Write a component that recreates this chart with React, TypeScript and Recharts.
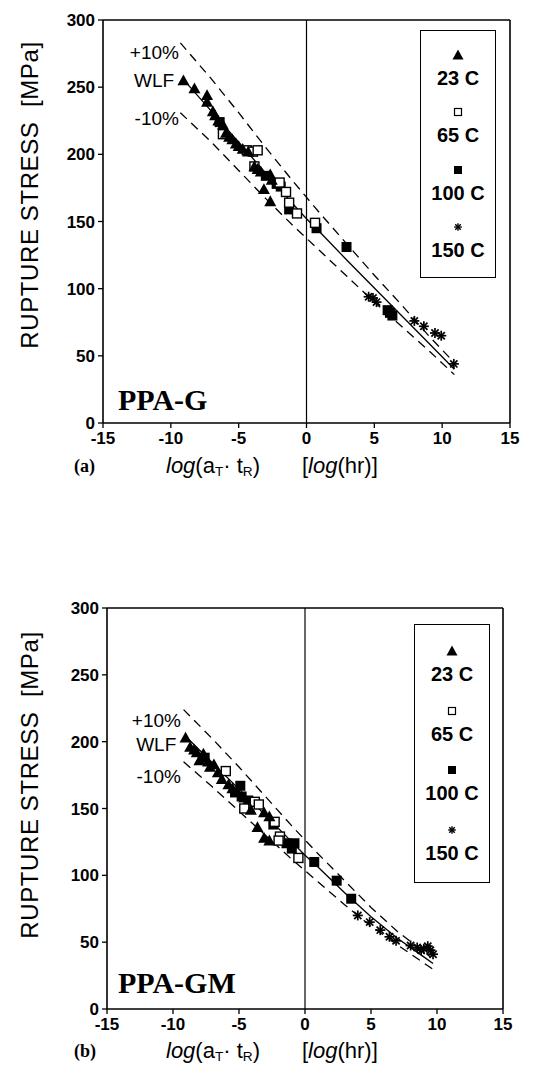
import React from 'react';
import { ScatterChart, Scatter, XAxis, YAxis, ReferenceLine, Legend } from 'recharts';

const SANS = '"Liberation Sans", Arial, Helvetica, sans-serif';
const SERIF = '"Liberation Serif", "Times New Roman", serif';

// Axis ticks
const xTicks = [-15, -10, -5, 0, 5, 10, 15];
const yTicks = [0, 50, 100, 150, 200, 250, 300];

// Test temperatures (legend entries, top to bottom)
const temps = ['23 C', '65 C', '100 C', '150 C'];

// ---------- (a) PPA-G : [log(aT·tR), rupture stress MPa] ----------
const gT23 = [
  [-9.07, 255], [-8.26, 249], [-7.33, 244], [-7.33, 239], [-6.9, 232], [-6.74, 229],
  [-6.5, 225], [-6.16, 222], [-5.93, 216], [-5.7, 213], [-5.47, 211], [-5.2, 208],
  [-5.0, 206], [-4.7, 204], [-4.3, 202], [-3.84, 191], [-3.6, 189], [-3.37, 187],
  [-2.67, 185], [-2.56, 181], [-3.14, 174], [-2.67, 165],
];
const gT65 = [
  [-6.16, 215], [-4.4, 203], [-3.95, 202], [-3.6, 203], [-3.84, 191], [-1.98, 179],
  [-1.51, 172], [-1.28, 164], [-0.7, 156], [0.63, 149],
];
const gT100 = [
  [-6.4, 224], [-3.0, 184], [-2.2, 178], [-1.9, 176], [-1.28, 159], [0.74, 145], [2.95, 131],
  [5.98, 84], [6.33, 80], [6.15, 82],
];
const gT150 = [
  [4.58, 94], [4.9, 93], [5.16, 90], [7.95, 76], [8.65, 72], [9.47, 67], [9.93, 65], [10.86, 44],
];
const gWlf = [
  [-9.1, 256], [-7, 232], [-5, 209], [-3, 186], [-1, 163], [0, 152], [1, 142], [3, 121],
  [5, 100.5], [7, 80], [9, 59.5], [10.9, 40],
];
const gPlus = [
  [-9.3, 283], [-7, 256], [-5, 231], [-3, 205], [-1, 180], [1, 156], [3, 133], [5, 110],
  [7, 88], [9, 65], [10.7, 47],
];
const gMinus = [
  [-9.3, 231], [-7, 209], [-5, 188], [-3, 167], [-1, 147], [1, 128], [3, 109], [5, 90],
  [7, 72], [9, 54], [10.9, 36],
];
const gNotes = [
  { x: -9.4, y: 276, text: '+10%' },
  { x: -9.75, y: 255, text: 'WLF' },
  { x: -9.4, y: 227, text: '-10%' },
];

// ---------- (b) PPA-GM ----------
const gmT23 = [
  [-9.05, 203], [-8.7, 196], [-8.4, 194], [-8.2, 192], [-7.7, 191], [-8.0, 186], [-7.35, 185],
  [-7.2, 181], [-6.9, 183], [-6.6, 177], [-6.3, 172], [-5.8, 168], [-5.5, 165],
  [-4.6, 158], [-4.1, 149], [-3.1, 147], [-2.7, 144], [-3.6, 136], [-3.1, 128], [-2.7, 126],
];
const gmT65 = [
  [-6.0, 178], [-3.8, 155], [-4.6, 150], [-3.5, 153], [-2.3, 140], [-1.9, 129], [-2.0, 126], [-0.5, 113],
];
const gmT100 = [
  [-7.6, 188], [-4.9, 167], [-5.3, 162], [-4.8, 159], [-4.3, 156], [-2.4, 138], [-1.4, 124], [-0.8, 124],
  [-1.0, 120], [0.7, 110], [2.4, 96], [3.5, 82.5],
];
const gmT150 = [
  [4.0, 70], [4.9, 65], [5.7, 59], [6.4, 54], [6.9, 51], [8.0, 47.5], [8.5, 46], [8.8, 44],
  [9.0, 45], [9.3, 47], [9.5, 44], [9.7, 41],
];
const gmWlf = [
  [-9.05, 204], [-7, 184], [-5, 164.5], [-3, 145], [-1, 125], [0, 115], [1, 106], [3, 87],
  [5, 69], [7, 53], [9, 39], [9.7, 34],
];
const gmPlus = [
  [-9.2, 224], [-7, 202], [-5, 181], [-3, 159], [-1, 137], [1, 116], [3, 96], [5, 76],
  [7, 58], [9.5, 39],
];
const gmMinus = [
  [-9.2, 185], [-7, 166], [-5, 148], [-3, 130], [-1, 112], [1, 95], [3, 78], [5, 62],
  [7, 48], [9.8, 29],
];
const gmNotes = [
  { x: -9.4, y: 216, text: '+10%' },
  { x: -9.75, y: 198, text: 'WLF' },
  { x: -9.4, y: 174, text: '-10%' },
];

type Pt = { x: number; y: number };
const toPts = (a: number[][]): Pt[] => a.map(([x, y]) => ({ x, y }));

// ---------- marker shapes ----------
const triPath = (cx: number, cy: number, s: number) =>
  `M${cx},${cy - s}L${cx + s},${cy + s * 0.8}L${cx - s},${cy + s * 0.8}Z`;

const TriangleMark = (p: any) => <path d={triPath(p.cx, p.cy, 6)} fill="#000" />;
const OpenSquareMark = (p: any) => (
  <rect x={p.cx - 4.5} y={p.cy - 4.5} width={9} height={9} fill="#fff" stroke="#000" strokeWidth={1.4} />
);
const FilledSquareMark = (p: any) => (
  <rect x={p.cx - 5} y={p.cy - 5} width={10} height={10} fill="#000" />
);
const starLines = (cx: number, cy: number, r: number, w: number) => (
  <g stroke="#000" strokeWidth={w}>
    <line x1={cx - r} y1={cy} x2={cx + r} y2={cy} />
    <line x1={cx} y1={cy - r} x2={cx} y2={cy + r} />
    <line x1={cx - r * 0.72} y1={cy - r * 0.72} x2={cx + r * 0.72} y2={cy + r * 0.72} />
    <line x1={cx - r * 0.72} y1={cy + r * 0.72} x2={cx + r * 0.72} y2={cy - r * 0.72} />
  </g>
);
const StarMark = (p: any) => starLines(p.cx, p.cy, 5, 1.7);
const NoMark = () => <g />;

const NoteMark = (p: any) => (
  <text
    x={p.cx}
    y={p.cy}
    textAnchor="end"
    dominantBaseline="central"
    fontFamily={SANS}
    fontSize={19}
    fill="#000"
  >
    {p.payload.text}
  </text>
);

const legendIcons: Record<string, React.ReactNode> = {
  '23 C': <path d={triPath(8, 7, 5.5)} fill="#000" />,
  '65 C': <rect x={4.5} y={3.5} width={7} height={7} fill="#fff" stroke="#000" strokeWidth={1.2} />,
  '100 C': <rect x={4} y={3} width={8} height={8} fill="#000" />,
  '150 C': starLines(8, 7, 3.8, 1.4),
};

const LegendBox = ({ payload, height }: any) => {
  const entries = (payload || [])
    .filter((e: any) => temps.includes(e.value))
    .sort((a: any, b: any) => temps.indexOf(a.value) - temps.indexOf(b.value));
  return (
    <div
      style={{
        width: 76,
        height,
        border: '1.5px solid #000',
        boxSizing: 'border-box',
        display: 'flex',
        flexDirection: 'column',
        justifyContent: 'space-evenly',
        alignItems: 'center',
        background: '#fff',
        fontFamily: SANS,
        fontWeight: 'bold',
        fontSize: 20,
        color: '#000',
      }}
    >
      {entries.map((e: any) => (
        <div key={e.value} style={{ display: 'flex', flexDirection: 'column', alignItems: 'center' }}>
          <svg width={16} height={13}>{legendIcons[e.value]}</svg>
          <div style={{ marginTop: 7, lineHeight: '20px', whiteSpace: 'nowrap' }}>{e.value}</div>
        </div>
      ))}
    </div>
  );
};

type PanelProps = {
  top: number;
  height: number;
  margin: { top: number; right: number; bottom: number; left: number };
  t23: number[][];
  t65: number[][];
  t100: number[][];
  t150: number[][];
  wlf: number[][];
  plus: number[][];
  minus: number[][];
  notes: { x: number; y: number; text: string }[];
  legendPos: { left: number; top: number; height: number };
};

const tickStyle = { fill: '#000', fontSize: 17, fontWeight: 'bold', fontFamily: SANS };
const solid = { stroke: '#000', strokeWidth: 1.3 };
const dashed = { stroke: '#000', strokeWidth: 1.3, strokeDasharray: '9 6' };

const Panel = (p: PanelProps) => (
  <div style={{ position: 'absolute', left: 0, top: p.top }}>
    <ScatterChart width={549} height={p.height} margin={p.margin}>
      <XAxis
        type="number"
        dataKey="x"
        domain={[-15, 15]}
        ticks={xTicks}
        allowDataOverflow
        height={30}
        tickSize={5}
        tickMargin={4}
        axisLine={{ stroke: '#000', strokeWidth: 1.6 }}
        tickLine={{ stroke: '#000', strokeWidth: 1.3 }}
        tick={tickStyle}
      />
      <YAxis
        type="number"
        dataKey="y"
        domain={[0, 300]}
        ticks={yTicks}
        allowDataOverflow
        width={60}
        tickSize={5}
        tickMargin={3}
        axisLine={{ stroke: '#000', strokeWidth: 1.6 }}
        tickLine={{ stroke: '#000', strokeWidth: 1.3 }}
        tick={tickStyle}
      />
      <ReferenceLine y={300} stroke="#000" strokeWidth={1.6} />
      <ReferenceLine x={15} stroke="#000" strokeWidth={1.6} />
      <ReferenceLine x={0} stroke="#000" strokeWidth={1.2} />
      <Legend
        layout="vertical"
        align="center"
        verticalAlign="middle"
        wrapperStyle={{ left: p.legendPos.left, top: p.legendPos.top, width: 76, height: p.legendPos.height }}
        content={(props: any) => <LegendBox payload={props.payload} height={p.legendPos.height} />}
      />
      <Scatter name="WLF" data={toPts(p.wlf)} line={solid} shape={NoMark} legendType="none" isAnimationActive={false} />
      <Scatter name="+10%" data={toPts(p.plus)} line={dashed} shape={NoMark} legendType="none" isAnimationActive={false} />
      <Scatter name="-10%" data={toPts(p.minus)} line={dashed} shape={NoMark} legendType="none" isAnimationActive={false} />
      <Scatter name="notes" data={p.notes} shape={NoteMark} legendType="none" isAnimationActive={false} />
      <Scatter name="150 C" data={toPts(p.t150)} shape={StarMark} fill="#000" isAnimationActive={false} />
      <Scatter name="100 C" data={toPts(p.t100)} shape={FilledSquareMark} fill="#000" isAnimationActive={false} />
      <Scatter name="65 C" data={toPts(p.t65)} shape={OpenSquareMark} fill="#000" isAnimationActive={false} />
      <Scatter name="23 C" data={toPts(p.t23)} shape={TriangleMark} fill="#000" isAnimationActive={false} />
    </ScatterChart>
  </div>
);

const abs = (left: number, top: number, extra: React.CSSProperties = {}): React.CSSProperties => ({
  position: 'absolute',
  left,
  top,
  whiteSpace: 'nowrap',
  color: '#000',
  ...extra,
});

const YTitle = ({ cy }: { cy: number }) => (
  <div
    style={abs(30, cy, {
      transform: 'translate(-50%, -50%) rotate(-90deg)',
      fontFamily: SANS,
      fontSize: 24,
      lineHeight: '26px',
      letterSpacing: 0.6,
    })}
  >
    RUPTURE STRESS&nbsp;&nbsp;[MPa]
  </div>
);

const sub: React.CSSProperties = { fontSize: '0.62em', verticalAlign: '-0.25em' };

const XTitle = ({ top }: { top: number }) => (
  <div style={abs(166, top, { fontFamily: SANS, fontSize: 22, lineHeight: '26px' })}>
    <i>log</i>(a<span style={sub}>T</span>· t<span style={sub}>R</span>)
    <span style={{ marginLeft: 42 }}>
      [<i>log</i>(hr)]
    </span>
  </div>
);

const PanelTag = ({ top, text }: { top: number; text: string }) => (
  <div style={abs(74, top, { fontFamily: SERIF, fontWeight: 'bold', fontSize: 18, lineHeight: '20px' })}>{text}</div>
);

const Material = ({ top, text }: { top: number; text: string }) => (
  <div style={abs(118, top, { fontFamily: SERIF, fontWeight: 'bold', fontSize: 30, lineHeight: '30px' })}>{text}</div>
);

export default function App() {
  return (
    <div style={{ position: 'absolute', left: 0, top: 0, width: 549, height: 1076, background: '#fff', overflow: 'hidden' }}>
      <Panel
        top={0}
        height={480}
        margin={{ top: 20, right: 39, bottom: 27, left: 43 }}
        t23={gT23}
        t65={gT65}
        t100={gT100}
        t150={gT150}
        wlf={gWlf}
        plus={gPlus}
        minus={gMinus}
        notes={gNotes}
        legendPos={{ left: 420, top: 30, height: 248 }}
      />
      <YTitle cy={195} />
      <XTitle top={453} />
      <PanelTag top={456} text="(a)" />
      <Material top={385} text="PPA-G" />

      <Panel
        top={560}
        height={500}
        margin={{ top: 48, right: 46, bottom: 21, left: 47 }}
        t23={gmT23}
        t65={gmT65}
        t100={gmT100}
        t150={gmT150}
        wlf={gmWlf}
        plus={gmPlus}
        minus={gmMinus}
        notes={gmNotes}
        legendPos={{ left: 414, top: 64, height: 259 }}
      />
      <YTitle cy={785} />
      <XTitle top={1038} />
      <PanelTag top={1041} text="(b)" />
      <Material top={968} text="PPA-GM" />
    </div>
  );
}
